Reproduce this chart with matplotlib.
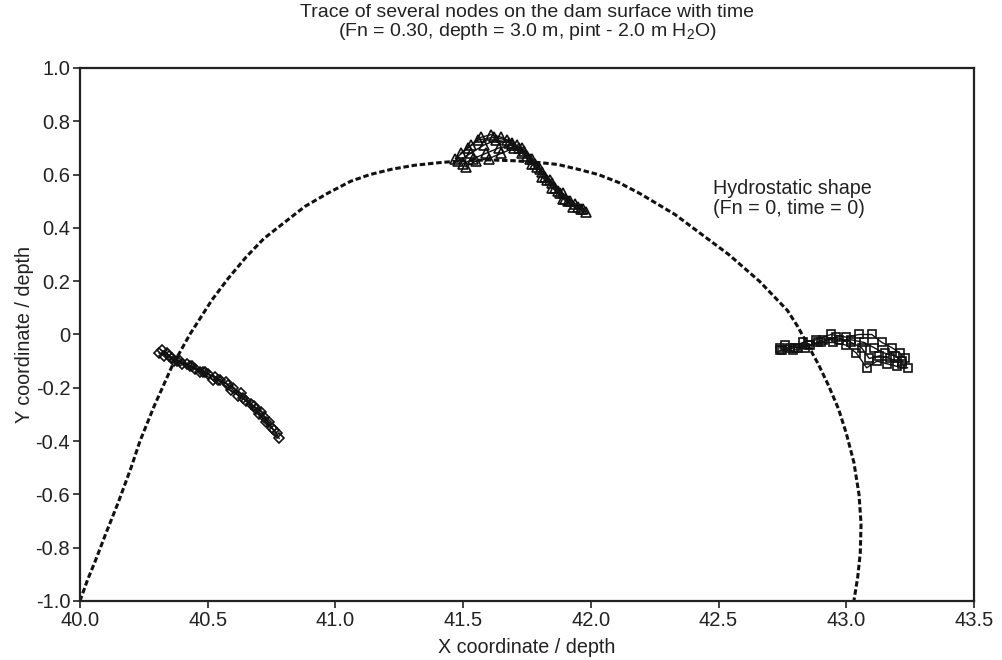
import matplotlib
matplotlib.use("Agg")
import matplotlib.pyplot as plt
import numpy as np

plt.rcParams['font.family'] = ['Liberation Sans', 'DejaVu Sans']
plt.rcParams['mathtext.fontset'] = 'custom'
plt.rcParams['mathtext.rm'] = 'Liberation Sans'

# hydrostatic shape (Fn = 0, time = 0)
hydro_x = [40.00, 40.03, 40.06, 40.10, 40.15, 40.20, 40.235, 40.29, 40.36, 40.43, 40.517,
           40.58, 40.65, 40.72, 40.80, 40.88, 40.97, 41.06, 41.135, 41.22, 41.31, 41.41,
           41.50, 41.60, 41.70, 41.80, 41.87, 41.95, 42.03, 42.11, 42.19, 42.26, 42.33,
           42.40, 42.47, 42.54, 42.60, 42.66, 42.72, 42.77, 42.81, 42.85, 42.89, 42.93,
           42.97, 43.00, 43.03, 43.05, 43.058, 43.055, 43.045, 43.03]
hydro_y = [-1.00, -0.92, -0.85, -0.75, -0.63, -0.50, -0.40, -0.27, -0.12, 0.00, 0.13,
           0.21, 0.29, 0.36, 0.42, 0.48, 0.53, 0.575, 0.60, 0.62, 0.635, 0.645,
           0.652, 0.655, 0.652, 0.645, 0.638, 0.62, 0.60, 0.57, 0.53, 0.49, 0.45,
           0.40, 0.35, 0.30, 0.25, 0.20, 0.14, 0.09, 0.03, -0.04, -0.11, -0.19,
           -0.28, -0.37, -0.48, -0.60, -0.71, -0.82, -0.91, -1.00]

# node on the left (diamonds)
left_x = [
    [40.32, 40.36, 40.40, 40.45, 40.50, 40.55, 40.60, 40.65, 40.70, 40.75, 40.78],
    [40.33, 40.38, 40.43, 40.48, 40.53, 40.58, 40.63, 40.68, 40.72, 40.76],
    [40.34, 40.37, 40.42, 40.47, 40.52, 40.57, 40.62, 40.67, 40.71, 40.74],
    [40.31, 40.35, 40.39, 40.44, 40.49, 40.54, 40.59, 40.64, 40.69, 40.73, 40.77],
]
left_y = [
    [-0.06, -0.09, -0.11, -0.13, -0.15, -0.17, -0.20, -0.25, -0.30, -0.35, -0.39],
    [-0.08, -0.10, -0.12, -0.14, -0.16, -0.19, -0.22, -0.27, -0.31, -0.36],
    [-0.07, -0.10, -0.11, -0.14, -0.17, -0.18, -0.23, -0.26, -0.29, -0.33],
    [-0.07, -0.08, -0.10, -0.12, -0.14, -0.17, -0.21, -0.24, -0.28, -0.33, -0.37],
]

# node at the top (triangles)
top_x = [
    [41.49, 41.53, 41.57, 41.61, 41.65, 41.69, 41.73, 41.77, 41.81, 41.85, 41.89, 41.93, 41.98],
    [41.50, 41.54, 41.59, 41.64, 41.69, 41.73, 41.77, 41.81, 41.85, 41.89, 41.94, 41.97],
    [41.51, 41.55, 41.60, 41.65, 41.70, 41.74, 41.78, 41.82, 41.86, 41.90, 41.95],
    [41.47, 41.52, 41.56, 41.62, 41.67, 41.72, 41.76, 41.80, 41.84, 41.88, 41.92],
    [41.48, 41.53, 41.58, 41.63, 41.68, 41.71, 41.75, 41.79, 41.83, 41.87, 41.91, 41.96],
]
top_y = [
    [0.68, 0.71, 0.74, 0.75, 0.74, 0.72, 0.68, 0.64, 0.59, 0.55, 0.51, 0.48, 0.46],
    [0.64, 0.66, 0.68, 0.70, 0.71, 0.70, 0.66, 0.61, 0.57, 0.53, 0.49, 0.47],
    [0.63, 0.65, 0.66, 0.68, 0.70, 0.69, 0.64, 0.59, 0.55, 0.51, 0.48],
    [0.66, 0.70, 0.73, 0.74, 0.73, 0.70, 0.66, 0.62, 0.58, 0.53, 0.50],
    [0.65, 0.68, 0.71, 0.73, 0.72, 0.71, 0.67, 0.63, 0.58, 0.54, 0.50, 0.47],
]

# node on the right (squares)
right_x = [
    [42.74, 42.78, 42.83, 42.88, 42.94, 43.00, 43.05, 43.10, 43.14, 43.18, 43.21, 43.23],
    [42.75, 42.79, 42.84, 42.89, 42.95, 43.00, 43.04, 43.08, 43.12, 43.16, 43.20, 43.24],
    [42.76, 42.81, 42.86, 42.91, 42.97, 43.02, 43.07, 43.11, 43.15, 43.19, 43.22],
    [42.74, 42.80, 42.85, 42.90, 42.96, 43.02, 43.06, 43.09, 43.13, 43.17, 43.22],
]
right_y = [
    [-0.05, -0.05, -0.03, -0.02, 0.00, -0.01, 0.00, 0.00, -0.03, -0.05, -0.07, -0.09],
    [-0.06, -0.06, -0.05, -0.03, -0.03, -0.04, -0.07, -0.125, -0.10, -0.11, -0.12, -0.125],
    [-0.04, -0.05, -0.04, -0.02, -0.02, -0.02, -0.03, -0.05, -0.07, -0.08, -0.10],
    [-0.06, -0.05, -0.04, -0.03, -0.01, -0.03, -0.05, -0.09, -0.08, -0.09, -0.11],
]

x_ticks = np.arange(40.0, 43.51, 0.5)
y_ticks = np.arange(-1.0, 1.01, 0.2)

fig = plt.figure(figsize=(10.02, 6.6), dpi=100)
ax = fig.add_axes([0.0798, 0.0894, 0.8922, 0.8076])

ax.plot(hydro_x, hydro_y, color='#111111', lw=2.2, linestyle=(0, (1.8, 0.9)))

for xs, ys in zip(left_x, left_y):
    ax.plot(xs, ys, color='#111111', lw=1.0, marker='D', ms=5,
            mfc='none', mec='#111111', mew=1.2)
for xs, ys in zip(top_x, top_y):
    ax.plot(xs, ys, color='#111111', lw=1.0, marker='^', ms=7,
            mfc='none', mec='#111111', mew=1.2)
for xs, ys in zip(right_x, right_y):
    ax.plot(xs, ys, color='#111111', lw=1.0, marker='s', ms=6,
            mfc='none', mec='#111111', mew=1.2)

ax.text(42.48, 0.51, "Hydrostatic shape\n(Fn = 0, time = 0)", fontsize=14.2,
        ha='left', va='center', color='#222222', linespacing=1.05)

ax.set_xlim(40.0, 43.5)
ax.set_ylim(-1.0, 1.0)
ax.set_xticks(x_ticks)
ax.set_yticks(y_ticks)
ax.set_xticklabels([f"{v:.1f}" for v in x_ticks])
ax.set_yticklabels(["0" if abs(v) < 1e-9 else f"{v:.1f}" for v in y_ticks])
ax.tick_params(direction='out', length=5, width=1.2, labelsize=14.5,
               colors='#222222', pad=2)
for s in ax.spines.values():
    s.set_linewidth(1.6)
    s.set_color('#222222')

ax.set_xlabel("X coordinate / depth", fontsize=14.2, color='#222222', labelpad=6)
ax.set_ylabel("Y coordinate / depth", fontsize=14.2, color='#222222', labelpad=1)
ax.set_title("Trace of several nodes on the dam surface with time\n"
             "(Fn = 0.30, depth = 3.0 m, pint - 2.0 m $\\mathregular{H_2O}$)",
             fontsize=14.0, color='#222222', pad=23, linespacing=1.0)

fig.savefig("out.png", dpi=100)
